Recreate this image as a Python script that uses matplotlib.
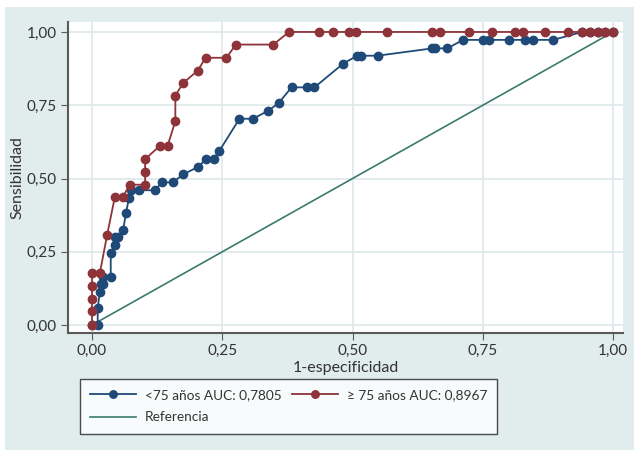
import matplotlib
matplotlib.use("Agg")
import matplotlib.pyplot as plt
from matplotlib.patches import Rectangle

plt.rcParams['font.family'] = ['Lato', 'DejaVu Sans']

# <75 años
x_lt75 = [0, 0.011, 0.011, 0.015, 0.017, 0.022, 0.022, 0.036, 0.036, 0.045, 0.045, 0.05,
          0.06, 0.065, 0.071, 0.075, 0.09, 0.12, 0.135, 0.155, 0.175, 0.204, 0.219, 0.234,
          0.244, 0.283, 0.309, 0.338, 0.358, 0.383, 0.413, 0.427, 0.482, 0.509, 0.517,
          0.548, 0.653, 0.658, 0.682, 0.712, 0.75, 0.761, 0.801, 0.831, 0.846, 0.885,
          0.941, 0.956, 0.971, 0.985, 1.0]
y_lt75 = [0, 0, 0.058, 0.112, 0.139, 0.139, 0.165, 0.165, 0.246, 0.272, 0.299, 0.299,
          0.326, 0.381, 0.432, 0.46, 0.46, 0.46, 0.487, 0.487, 0.514, 0.54, 0.567, 0.567,
          0.593, 0.704, 0.704, 0.731, 0.757, 0.811, 0.811, 0.811, 0.892, 0.919, 0.919,
          0.919, 0.944, 0.944, 0.944, 0.973, 0.973, 0.973, 0.973, 0.973, 0.973, 0.973,
          1, 1, 1, 1, 1]

# >=75 años
x_ge75 = [0, 0, 0, 0, 0, 0.015, 0.029, 0.044, 0.059, 0.073, 0.102, 0.102, 0.102, 0.13,
          0.145, 0.16, 0.16, 0.175, 0.203, 0.218, 0.258, 0.276, 0.348, 0.378, 0.435,
          0.463, 0.493, 0.507, 0.567, 0.653, 0.667, 0.724, 0.768, 0.811, 0.827, 0.869,
          0.913, 0.941, 0.956, 0.971, 0.985, 1.0]
y_ge75 = [0, 0.048, 0.09, 0.133, 0.176, 0.176, 0.307, 0.438, 0.438, 0.479, 0.479, 0.522,
          0.566, 0.611, 0.611, 0.696, 0.783, 0.826, 0.868, 0.912, 0.912, 0.957, 0.957] + [1] * 19

ticks = [0, 0.25, 0.5, 0.75, 1.0]
tick_labels = ["0,00", "0,25", "0,50", "0,75", "1,00"]

blue = "#1f4a78"
red = "#8e3339"
green = "#3b7a6c"
panel = "#e1ecec"
grid = "#dde9ea"

fig = plt.figure(figsize=(6.34, 4.53), dpi=100)
fig.patch.set_facecolor("white")
fig.patches.append(Rectangle((5 / 634, 3 / 453), 1, (453 - 10) / 453,
                             transform=fig.transFigure, facecolor=panel,
                             edgecolor="none", zorder=-1))

ax = fig.add_axes([68 / 634, (453 - 333) / 453, 555 / 634, 311 / 453])
ax.set_facecolor("white")

l1, = ax.plot(x_lt75, y_lt75, color=blue, lw=1.3, marker="o", ms=6, zorder=3,
              label="<75 años AUC: 0,7805")
l2, = ax.plot(x_ge75, y_ge75, color=red, lw=1.3, marker="o", ms=6, zorder=4,
              label="≥ 75 años AUC: 0,8967")
l3, = ax.plot([0, 1], [0, 1], color=green, lw=1.2, zorder=2, label="Referencia")

ax.set_xlim(-0.046, 1.019)
ax.set_ylim(-0.027, 1.034)
ax.set_xticks(ticks)
ax.set_xticklabels(tick_labels)
ax.set_yticks(ticks)
ax.set_yticklabels(tick_labels)
ax.grid(True, color=grid, lw=1.2)
ax.set_axisbelow(True)

for s in ["top", "right"]:
    ax.spines[s].set_visible(False)
for s in ["left", "bottom"]:
    ax.spines[s].set_color("#5a5a5a")
    ax.spines[s].set_linewidth(1.5)
ax.tick_params(direction="out", length=5, pad=3, color="#5a5a5a", labelsize=11,
               labelcolor="#333333")

ax.set_xlabel("1-especificidad", fontsize=11.5, color="#333333", labelpad=2)
ax.set_ylabel("Sensibilidad", fontsize=11.5, color="#333333")
ax.yaxis.set_label_coords(-0.078, 0.5)

# column-major fill: blue, Referencia in col 1; red in col 2
leg = fig.legend([l1, l3, l2], [l1.get_label(), l3.get_label(), l2.get_label()],
                 loc="upper left", bbox_to_anchor=(80 / 634, (453 - 379) / 453),
                 borderaxespad=0, ncol=2, fontsize=9.8, frameon=True, fancybox=False,
                 handlelength=3.4, handletextpad=0.6, numpoints=1, markerscale=0.9,
                 columnspacing=0.8, borderpad=0.75, labelspacing=0.75)
leg.get_frame().set_edgecolor("#222222")
leg.get_frame().set_linewidth(1.0)
for t in leg.get_texts():
    t.set_color("#333333")

fig.savefig("out.png", dpi=100)
